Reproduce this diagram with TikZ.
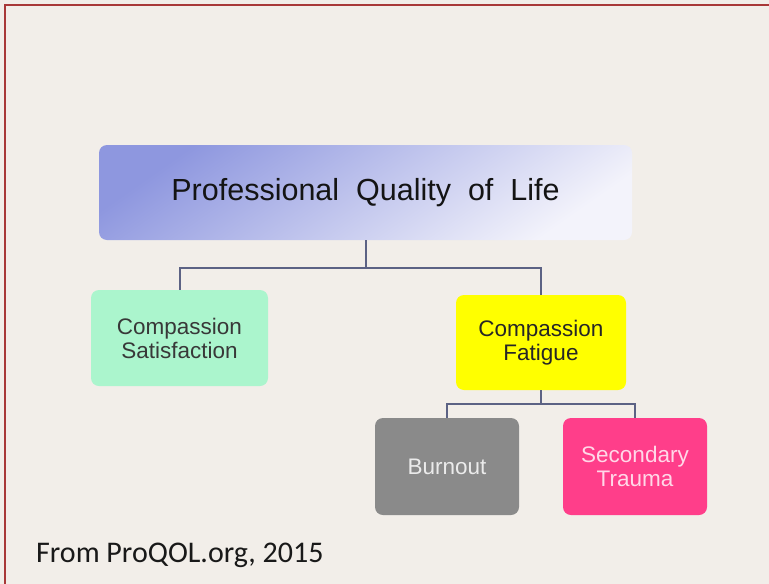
\documentclass[tikz,border=0pt]{standalone}
\usepackage{fontspec}
\setmainfont{Liberation Sans}
\newfontfamily\footfont{Carlito}
\definecolor{bgc}{HTML}{F2EEE9}
\definecolor{framec}{HTML}{A83838}
\definecolor{linec}{HTML}{5C6284}
\definecolor{topdark}{HTML}{8E97DF}
\definecolor{toplight}{HTML}{F3F3FB}
\definecolor{mint}{HTML}{ABF5CD}
\definecolor{yel}{HTML}{FFFF00}
\definecolor{grayb}{HTML}{8A8A8A}
\definecolor{pinkb}{HTML}{FF3E8A}
\tikzset{
  box/.style={rounded corners=8pt, align=center, inner sep=0pt},
  conn/.style={draw=linec, line width=2pt},
  small/.style={font=\fontsize{22.5}{24}\selectfont}
}
\begin{document}
\begin{tikzpicture}[x=1pt,y=-1pt]
\fill[bgc] (0,0) rectangle (769,584);
\useasboundingbox (0,0) rectangle (769,584);
\coordinate (tl) at (5,5);
\coordinate (tr) at (769,5);
\coordinate (bl) at (5,584);
\draw[framec, line width=2pt] (bl) -- (tl) -- (tr);

\node[box, minimum width=533pt, minimum height=95pt,
  shading=axis, top color=topdark, bottom color=toplight, shading angle=35,
  text=black!92, font=\fontsize{30.5}{34}\selectfont] (pql) at (365.5,192.5)
  {Professional\ \ Quality\ \ of\ \ Life};

\node[box, fill=mint, minimum width=177pt, minimum height=96pt, text=black!78, small] (cs) at (179.5,338)
  {Compassion\\Satisfaction};
\node[box, fill=yel, minimum width=170pt, minimum height=95pt, text=black!85, small] (cf) at (541,342.5)
  {Compassion\\Fatigue};
\node[box, fill=grayb, minimum width=144pt, minimum height=97pt, text=white!92!black, small] (bo) at (447,466.5)
  {Burnout};
\node[box, fill=pinkb, minimum width=144pt, minimum height=97pt, text=white!80!pinkb, small] (st) at (635,466.5)
  {Secondary\\Trauma};

\draw[conn] (pql.south) -- ++(0,28) -| (cs.north);
\draw[conn] (pql.south) ++(0,28) -| (cf.north);
\draw[conn] (cf.south) -- ++(0,14) -| (bo.north);
\draw[conn] (cf.south) ++(0,14) -| (st.north);

\node[anchor=base west, inner sep=0pt, font=\footfont\fontsize{30}{32}\selectfont, text=black!90] (src) at (36,562) {From ProQOL.org, 2015};
\end{tikzpicture}
\end{document}
